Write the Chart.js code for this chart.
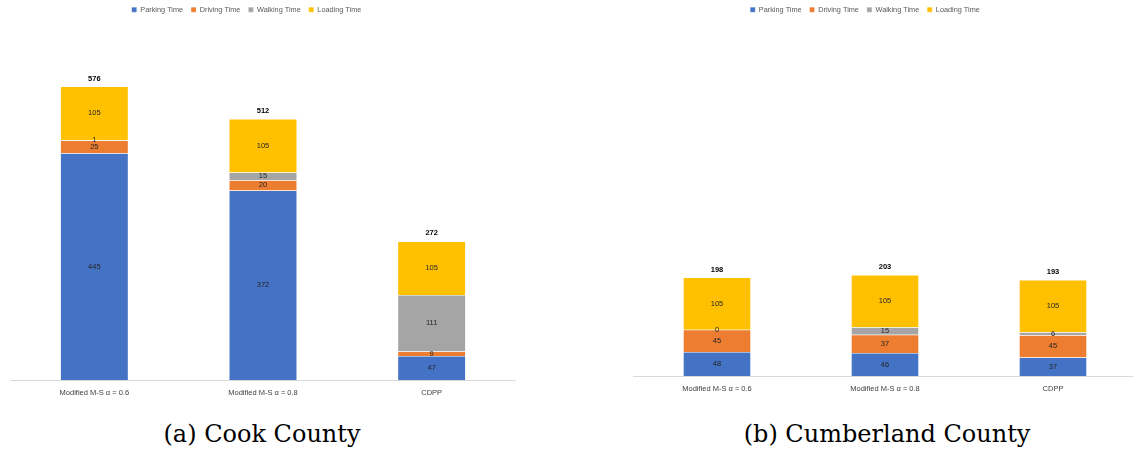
<!DOCTYPE html>
<html>
<head>
<meta charset="utf-8">
<script src="https://cdn.jsdelivr.net/npm/chart.js@4"></script>
<style>
  html, body { margin: 0; padding: 0; background: #fff; width: 1133px; height: 450px; overflow: hidden; position: relative; }
  .box { position: absolute; top: 0; }
  #left { left: -23px; width: 539px; height: 405px; }
  #right { left: 593px; width: 544px; height: 401px; }
  .caption { position: absolute; top: 420px; font-family: "DejaVu Serif", serif; font-size: 24px; color: #000; transform: translateX(-50%); white-space: nowrap; }
</style>
</head>
<body>
<div class="box" id="left"><canvas id="cook"></canvas></div>
<div class="box" id="right"><canvas id="cumberland"></canvas></div>
<div class="caption" style="left:262px">(a) Cook County</div>
<div class="caption" style="left:887px">(b) Cumberland County</div>
<script>
const categories = ["Modified M-S α = 0.6", "Modified M-S α = 0.8", "CDPP"]
const seriesNames = ["Parking Time", "Driving Time", "Walking Time", "Loading Time"]
const seriesColors = ["#4472C4", "#ED7D31", "#A5A5A5", "#FFC000"]

// Cook County
const cookParking = [445, 372, 47]
const cookDriving = [25, 20, 9]
const cookWalking = [1, 15, 111]
const cookLoading = [105, 105, 105]

// Cumberland County
const cumbParking = [48, 46, 37]
const cumbDriving = [45, 37, 45]
const cumbWalking = [0, 15, 6]
const cumbLoading = [105, 105, 105]

const FONT = "'Liberation Sans', Arial, sans-serif"

// value inside each segment, bold total above each stack
const barLabels = {
  id: "barLabels",
  afterDatasetsDraw(chart) {
    const ctx = chart.ctx
    ctx.save()
    ctx.textAlign = "center"
    ctx.textBaseline = "middle"
    ctx.font = "7.5px " + FONT
    ctx.fillStyle = "#262626"
    chart.data.datasets.forEach((ds, i) => {
      chart.getDatasetMeta(i).data.forEach((bar, j) => {
        ctx.fillText(ds.data[j], bar.x, (bar.y + bar.base) / 2)
      })
    })
    var last = chart.getDatasetMeta(chart.data.datasets.length - 1)
    ctx.font = "bold 7.5px " + FONT
    ctx.fillStyle = "#000"
    last.data.forEach((bar, j) => {
      var total = chart.data.datasets.reduce((s, ds) => s + ds.data[j], 0)
      ctx.fillText(total, bar.x, bar.y - 8)
    })
    ctx.restore()
  }
}

function makeChart(id, series, yMax, axisWidth) {
  var ctx = document.getElementById(id).getContext("2d")
  return new Chart(ctx, {
    type: "bar",
    data: {
      labels: categories,
      datasets: series.map((data, i) => ({
        label: seriesNames[i],
        data: data,
        backgroundColor: seriesColors[i],
        borderColor: "rgba(255,255,255,0.5)",
        borderWidth: 0.5,
        categoryPercentage: 1,
        barPercentage: 0.403
      }))
    },
    options: {
      responsive: true,
      maintainAspectRatio: false,
      animation: false,
      layout: { padding: { left: 0, right: 0, top: -2, bottom: 0 } },
      plugins: {
        legend: {
          position: "top",
          labels: {
            boxWidth: 5,
            boxHeight: 5,
            padding: 8,
            color: "#595959",
            font: { family: FONT, size: 7.3 }
          }
        },
        tooltip: { enabled: false }
      },
      scales: {
        x: {
          stacked: true,
          grid: { display: false, drawTicks: false },
          border: { color: "#D9D9D9", width: 1 },
          ticks: { color: "#404040", font: { family: FONT, size: 7.5 }, padding: 8 }
        },
        y: {
          stacked: true,
          min: 0,
          max: yMax,
          grid: { display: false, drawTicks: false },
          border: { display: false },
          ticks: { display: false },
          afterFit(scale) { scale.width = axisWidth }
        }
      }
    },
    plugins: [barLabels]
  })
}

makeChart("cook", [cookParking, cookDriving, cookWalking, cookLoading], 700, 33)
makeChart("cumberland", [cumbParking, cumbDriving, cumbWalking, cumbLoading], 709, 40)
</script>
</body>
</html>
